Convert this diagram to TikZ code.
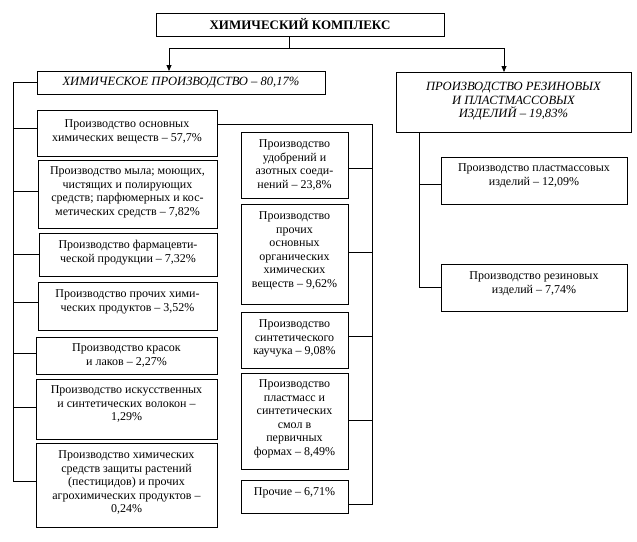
\documentclass[tikz,border=0pt]{standalone}
\usepackage{fontspec}
\setmainfont{Liberation Serif}
\usetikzlibrary{arrows.meta}
\newcommand{\boxtxt}[4]{\parbox[c][#2][t]{#1}{\centering\vspace*{#3}\strut #4\par}}
\tikzset{
  bx/.style={draw, line width=0.8pt, inner sep=0pt, outer sep=0pt, anchor=north west},
  ln/.style={line width=0.8pt},
  arr/.style={line width=0.8pt, -{Triangle[width=5pt,length=6pt]}}
}
\begin{document}
\begin{tikzpicture}[x=1pt, y=-1pt, font={\fontsize{12}{13.6}\selectfont}]
\useasboundingbox (0,0) rectangle (637,541);
% top level
\node[bx] (top) at (156,13) {\boxtxt{288pt}{23pt}{5pt}{\bfseries\fontsize{13}{13.6}\selectfont ХИМИЧЕСКИЙ КОМПЛЕКС}};
\node[bx] (chem) at (37,71) {\boxtxt{288pt}{23pt}{5pt}{\itshape\fontsize{12.6}{13.6}\selectfont ХИМИЧЕСКОЕ ПРОИЗВОДСТВО – 80,17\%}};
\node[bx] (rb) at (396,72) {\boxtxt{235pt}{60pt}{9pt}{\itshape\fontsize{12.6}{13.6}\selectfont ПРОИЗВОДСТВО РЕЗИНОВЫХ\\И ПЛАСТМАССОВЫХ\\ИЗДЕЛИЙ – 19,83\%}};
% left column
\node[bx] (L1) at (37,110) {\boxtxt{180pt}{46pt}{8pt}{Производство основных\\химических веществ – 57,7\%}};
\node[bx] (L2) at (38,160) {\boxtxt{179pt}{68pt}{5pt}{Производство мыла; моющих,\\чистящих и полирующих\\средств; парфюмерных и кос-\\метических средств – 7,82\%}};
\node[bx] (L3) at (39,233) {\boxtxt{178pt}{43pt}{6pt}{Производство фармацевти-\\ческой продукции – 7,32\%}};
\node[bx] (L4) at (38,282) {\boxtxt{179pt}{48pt}{6pt}{Производство прочих хими-\\ческих продуктов – 3,52\%}};
\node[bx] (L5) at (36,337) {\boxtxt{181pt}{37pt}{5pt}{Производство красок\\и лаков – 2,27\%}};
\node[bx] (L6) at (36,379) {\boxtxt{181pt}{60pt}{5pt}{Производство искусственных\\и синтетических волокон –\\1,29\%}};
\node[bx] (L7) at (36,443) {\boxtxt{181pt}{84pt}{6pt}{Производство химических\\средств защиты растений\\(пестицидов) и прочих\\агрохимических продуктов –\\0,24\%}};
% right column
\node[bx] (R1) at (241,132) {\boxtxt{107pt}{66pt}{6pt}{Производство\\удобрений и\\азотных соеди-\\нений – 23,8\%}};
\node[bx] (R2) at (241,204) {\boxtxt{107pt}{100pt}{6pt}{Производство\\прочих\\основных\\органических\\химических\\веществ – 9,62\%}};
\node[bx] (R3) at (241,312) {\boxtxt{107pt}{56pt}{6pt}{Производство\\синтетического\\каучука – 9,08\%}};
\node[bx] (R4) at (241,373) {\boxtxt{107pt}{96pt}{5pt}{Производство\\пластмасс и\\синтетических\\смол в\\первичных\\формах – 8,49\%}};
\node[bx] (R5) at (241,480) {\boxtxt{107pt}{33pt}{6pt}{Прочие – 6,71\%}};
% rubber / plastics
\node[bx] (P1) at (441,157) {\boxtxt{186pt}{47pt}{5pt}{Производство пластмассовых\\изделий – 12,09\%}};
\node[bx] (P2) at (441,264) {\boxtxt{186pt}{47pt}{6pt}{Производство резиновых\\изделий – 7,74\%}};
% connectors from the top
\coordinate (stem) at (289,48);
\draw[ln] (stem |- top.south) -- (stem);
\draw[arr] (stem) -| ([xshift=-12pt]chem.north);
\draw[arr] (stem) -| ([xshift=-9.5pt]rb.north);
% left bus
\coordinate (lbus) at (13,0);
\coordinate (c1) at ([yshift=5pt]L1.west);
\coordinate (c2) at ([yshift=3pt]L2.west);
\coordinate (c3) at (L3.west);
\coordinate (c4) at ([yshift=4pt]L4.west);
\coordinate (c5) at ([yshift=2pt]L5.west);
\coordinate (c6) at ([yshift=2pt]L6.west);
\coordinate (c7) at ([yshift=4pt]L7.west);
\draw[ln] (chem.west) -| (lbus |- c7) -- (c7);
\foreach \c in {c1,c2,c3,c4,c5,c6} \draw[ln] (lbus |- \c) -- (\c);
% right bus
\coordinate (rbus) at (372,0);
\coordinate (e1) at ([yshift=9pt]L1.east);
\coordinate (r1) at ([yshift=-3pt]R1.east);
\coordinate (r2) at ([yshift=2pt]R2.east);
\coordinate (r3) at ([yshift=4pt]R3.east);
\coordinate (r4) at ([yshift=1pt]R4.east);
\coordinate (r5) at ([yshift=-7.5pt]R5.east);
\draw[ln] (e1) -| (rbus |- r5) -- (r5);
\foreach \c in {r1,r2,r3,r4} \draw[ln] (rbus |- \c) -- (\c);
% rubber / plastics bus
\coordinate (pbus) at (419,0);
\coordinate (p1) at ([yshift=-3.5pt]P1.west);
\coordinate (p2) at (P2.west);
\draw[ln] (pbus |- rb.south) -- (pbus |- p2) -- (p2);
\draw[ln] (pbus |- p1) -- (p1);
\end{tikzpicture}
\end{document}
